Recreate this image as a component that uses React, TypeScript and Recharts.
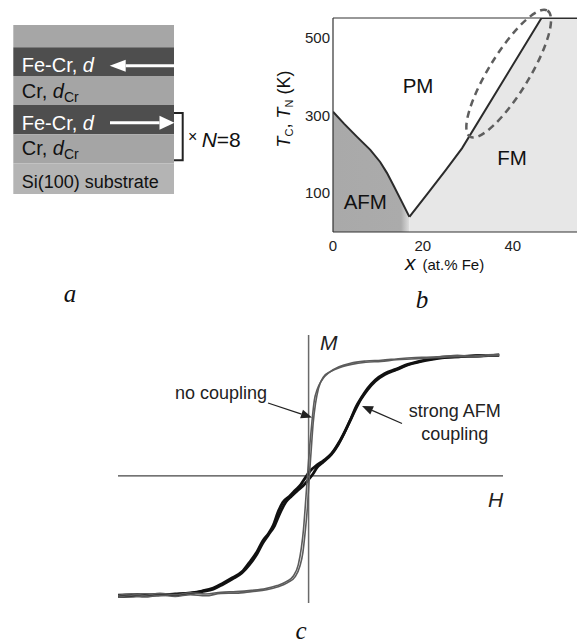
import React from "react";
import { Area, ComposedChart, Line, ReferenceDot, ReferenceLine, XAxis, YAxis } from "recharts";

const SANS = '"Liberation Sans", Arial, sans-serif';
const SERIF = '"Liberation Serif", "Times New Roman", serif';

// (a) layer stack, top to bottom
const layerTops = [25, 47.3, 76, 105, 134.3, 163.3, 194];
const layerFills = ["#a6a6a6", "#4e4e4e", "#a5a5a5", "#4e4e4e", "#a5a5a5", "#b4b4b4"];

// (b) phase diagram, x = at.% Fe, T in K
const feContent = [0, 2.5, 5.3, 8.3, 10.5, 12, 13.5, 15.3, 17, 21, 25, 28.7, 46.4, 54.3];
const neelTemp = [309, 278, 245, 211, 180, 152, 119, 78, 39, null, null, null, null, null];
const curieTemp = [null, null, null, null, null, null, null, null, 39, 98, 158, 215, 550, 550];
const phaseTicksX = [0, 20, 40];
const phaseTicksY = [100, 300, 500];

// (c) hysteresis loops, H and M in reduced units
const grayDownH = [-1.0, -0.93, -0.86, -0.78, -0.7, -0.62, -0.54, -0.46, -0.38, -0.3, -0.225, -0.165, -0.115, -0.08, -0.054, -0.038, -0.027, -0.015, -0.006, 0.006, 0.018, 0.03, 0.045, 0.07, 0.11, 0.16, 0.22, 0.3, 0.38, 0.46, 0.54, 0.62, 0.7, 0.78, 0.86, 0.93, 1.0];
const grayDownM = [-0.995, -0.985, -0.995, -0.98, -0.99, -0.975, -0.985, -0.97, -0.965, -0.955, -0.94, -0.915, -0.88, -0.835, -0.74, -0.6, -0.45, -0.2, 0.0, 0.25, 0.46, 0.63, 0.72, 0.8, 0.865, 0.91, 0.94, 0.958, 0.965, 0.975, 0.985, 0.99, 0.995, 1.005, 1.0, 1.01, 1.015];
const grayUpH = [-1.0, -0.93, -0.86, -0.78, -0.7, -0.62, -0.54, -0.46, -0.38, -0.3, -0.22, -0.16, -0.11, -0.07, -0.045, -0.03, -0.018, -0.006, 0.004, 0.013, 0.024, 0.036, 0.052, 0.078, 0.115, 0.165, 0.225, 0.3, 0.38, 0.46, 0.54, 0.62, 0.7, 0.78, 0.86, 0.93, 1.0];
const grayUpM = [-1.01, -1.0, -1.01, -0.995, -1.005, -0.99, -1.0, -0.98, -0.978, -0.965, -0.95, -0.925, -0.89, -0.84, -0.75, -0.64, -0.47, -0.26, 0.0, 0.2, 0.44, 0.6, 0.73, 0.825, 0.87, 0.905, 0.93, 0.948, 0.955, 0.968, 0.975, 0.982, 0.988, 0.995, 0.992, 1.0, 1.005];
const blackDownH = [-1.0, -0.9, -0.8, -0.7, -0.62, -0.56, -0.5, -0.45, -0.4, -0.35, -0.31, -0.27, -0.24, -0.21, -0.185, -0.16, -0.135, -0.1, -0.07, -0.04, -0.015, 0.01, 0.04, 0.08, 0.12, 0.16, 0.19, 0.22, 0.25, 0.28, 0.31, 0.35, 0.4, 0.46, 0.52, 0.58, 0.64, 0.7, 0.8, 0.9, 1.0];
const blackDownM = [-0.995, -0.99, -0.995, -0.985, -0.975, -0.96, -0.935, -0.895, -0.85, -0.8, -0.72, -0.63, -0.54, -0.48, -0.41, -0.3, -0.22, -0.17, -0.12, -0.07, -0.01, 0.045, 0.085, 0.13, 0.185, 0.28, 0.37, 0.47, 0.58, 0.66, 0.73, 0.8, 0.855, 0.89, 0.93, 0.955, 0.975, 0.99, 0.995, 1.0, 1.01];
const blackUpH = [-1.0, -0.9, -0.8, -0.7, -0.62, -0.56, -0.5, -0.45, -0.4, -0.35, -0.31, -0.27, -0.24, -0.21, -0.18, -0.15, -0.12, -0.09, -0.06, -0.03, -0.005, 0.02, 0.045, 0.08, 0.12, 0.155, 0.185, 0.215, 0.245, 0.275, 0.31, 0.35, 0.4, 0.46, 0.52, 0.58, 0.64, 0.7, 0.8, 0.9, 1.0];
const blackUpM = [-1.005, -1.0, -0.99, -0.99, -0.98, -0.965, -0.945, -0.905, -0.86, -0.81, -0.74, -0.65, -0.56, -0.49, -0.42, -0.31, -0.22, -0.17, -0.125, -0.085, -0.04, 0.01, 0.07, 0.12, 0.18, 0.26, 0.35, 0.45, 0.55, 0.64, 0.72, 0.79, 0.845, 0.885, 0.925, 0.95, 0.97, 0.985, 0.995, 1.005, 1.005];

const phaseRows = feContent.map((x, i) => ({ x, neel: neelTemp[i], curie: curieTemp[i] }));
const toRows = (h: number[], m: number[]) => h.map((v, i) => ({ h: v, m: m[i] }));

function arrowHead(x1: number, y1: number, x2: number, y2: number, len: number, half: number) {
  const d = Math.hypot(x2 - x1, y2 - y1);
  const ux = (x2 - x1) / d;
  const uy = (y2 - y1) / d;
  const bx = x2 - ux * len;
  const by = y2 - uy * len;
  return {
    bx,
    by,
    points: `${x2},${y2} ${bx - uy * half},${by + ux * half} ${bx + uy * half},${by - ux * half}`,
  };
}

function Arrow({ x1, y1, x2, y2, color, width, len, half }: any) {
  const h = arrowHead(x1, y1, x2, y2, len, half);
  return (
    <g>
      <line x1={x1} y1={y1} x2={h.bx} y2={h.by} stroke={color} strokeWidth={width} />
      <polygon points={h.points} fill={color} />
    </g>
  );
}

const tickStyle = { fontSize: 15, fill: "#222", fontFamily: SANS };

export default function App() {
  return (
    <div style={{ position: "absolute", left: 0, top: 0, width: 577, height: 644, background: "#fff", fontFamily: SANS }}>
      <div style={{ position: "absolute", left: 290, top: 0 }}>
        <ComposedChart width={287} height={260} data={phaseRows} margin={{ top: 18, right: 0, bottom: 0, left: 0 }}>
          <defs>
            <linearGradient id="afmFill" x1="0" y1="0" x2="1" y2="0">
              <stop offset="0" stopColor="#a9a9a9" />
              <stop offset="0.89" stopColor="#ababab" />
              <stop offset="1" stopColor="#dedede" />
            </linearGradient>
          </defs>
          <XAxis dataKey="x" type="number" domain={[0, 54.3]} ticks={phaseTicksX} height={28} tickLine={false} axisLine={{ stroke: "#333", strokeWidth: 1.2 }} tick={tickStyle} allowDataOverflow />
          <YAxis type="number" domain={[0, 550]} ticks={phaseTicksY} width={43} tickLine={false} tickSize={1} tickMargin={2} axisLine={{ stroke: "#333", strokeWidth: 1.2 }} tick={tickStyle} allowDataOverflow />
          <Area dataKey="curie" type="linear" fill="#e7e7e7" fillOpacity={1} stroke="#2b2b2b" strokeWidth={2} baseValue={0} isAnimationActive={false} />
          <Area dataKey="neel" type="linear" fill="url(#afmFill)" fillOpacity={1} stroke="#2b2b2b" strokeWidth={2} baseValue={0} isAnimationActive={false} />
          <ReferenceLine y={550} stroke="#333" strokeWidth={1.2} />
          <ReferenceDot
            x={39.1}
            y={407}
            r={0}
            shape={(p: any) => (
              <ellipse cx={p.cx} cy={p.cy} rx={74} ry={20} transform={`rotate(-58.4 ${p.cx} ${p.cy})`} fill="none" stroke="#5e5e5e" strokeWidth={2.5} strokeDasharray="7 5" />
            )}
          />
        </ComposedChart>
      </div>

      <div style={{ position: "absolute", left: 0, top: 320 }}>
        <ComposedChart width={577} height={300} margin={{ top: 15, right: 74, bottom: 17, left: 118 }}>
          <XAxis dataKey="h" type="number" domain={[-1, 1.02]} hide allowDataOverflow />
          <YAxis type="number" domain={[-1.06, 1.175]} hide allowDataOverflow />
          <ReferenceLine x={0} stroke="#6a6a6a" strokeWidth={1.5} />
          <ReferenceLine y={0} stroke="#444" strokeWidth={1.2} />
          <Line data={toRows(blackDownH, blackDownM)} dataKey="m" type="monotone" stroke="#111" strokeWidth={2.8} dot={false} isAnimationActive={false} />
          <Line data={toRows(blackUpH, blackUpM)} dataKey="m" type="monotone" stroke="#111" strokeWidth={2.8} dot={false} isAnimationActive={false} />
          <Line data={toRows(grayDownH, grayDownM)} dataKey="m" type="monotone" stroke="#5c5c5c" strokeWidth={1.6} dot={false} isAnimationActive={false} />
          <Line data={toRows(grayUpH, grayUpM)} dataKey="m" type="monotone" stroke="#5c5c5c" strokeWidth={1.6} dot={false} isAnimationActive={false} />
        </ComposedChart>
      </div>

      <svg width={577} height={644} style={{ position: "absolute", left: 0, top: 0, pointerEvents: "none" }}>
        {layerFills.map((fill, i) => (
          <rect key={i} x={13.3} y={layerTops[i]} width={160.7} height={layerTops[i + 1] - layerTops[i]} fill={fill} />
        ))}
        <g fontFamily={SANS} fontSize={20}>
          <text x={21.7} y={72} fill="#fff">Fe-Cr, <tspan fontStyle="italic">d</tspan></text>
          <text x={21.7} y={98} fill="#111">Cr, <tspan fontStyle="italic">d</tspan><tspan fontSize={14} dy={4}>Cr</tspan></text>
          <text x={21.7} y={130} fill="#fff">Fe-Cr, <tspan fontStyle="italic">d</tspan></text>
          <text x={21.7} y={155} fill="#111">Cr, <tspan fontStyle="italic">d</tspan><tspan fontSize={14} dy={4}>Cr</tspan></text>
          <text x={21.7} y={188.3} fill="#111" fontSize={18}>Si(100) substrate</text>
        </g>
        <Arrow x1={174} y1={65.7} x2={109.7} y2={65.7} color="#fff" width={3} len={16} half={6} />
        <Arrow x1={110} y1={122.7} x2={174.5} y2={122.7} color="#fff" width={3} len={15} half={7} />
        <path d="M174 113 H182.7 V160.3 H174" fill="none" stroke="#222" strokeWidth={2} />
        <text x={188} y={141.7} fontFamily={SANS} fontSize={16} fill="#111">×</text>
        <text x={201.7} y={146.7} fontFamily={SANS} fontSize={21} fill="#111"><tspan fontStyle="italic">N</tspan>=8</text>

        <g fontFamily={SANS} fill="#111" fontSize={20.5} textAnchor="middle">
          <text x={418} y={92.7}>PM</text>
          <text x={512} y={165}>FM</text>
          <text x={365.3} y={209.3}>AFM</text>
        </g>
        <text x={290} y={109} transform="rotate(-90 290 109)" textAnchor="middle" fontFamily={SANS} fontSize={18} fill="#111">
          <tspan fontStyle="italic">T</tspan><tspan fontSize={11} dy={3}>C</tspan><tspan dy={-3}>,  </tspan><tspan fontStyle="italic">T</tspan><tspan fontSize={11} dy={3}>N</tspan><tspan dy={-3}> (K)</tspan>
        </text>
        <text x={405} y={270} fontFamily={SANS} fill="#111">
          <tspan fontStyle="italic" fontSize={21}>x</tspan><tspan fontSize={15} dx={7}>(at.% Fe)</tspan>
        </text>

        <g fontFamily={SANS} fontSize={18} fill="#222">
          <text x={175} y={399.3}>no coupling</text>
          <text x={454.7} y={417} textAnchor="middle">strong AFM</text>
          <text x={454.7} y={439.5} textAnchor="middle">coupling</text>
          <text x={320} y={350} fontStyle="italic" fontSize={21}>M</text>
          <text x={488} y={506.7} fontStyle="italic" fontSize={21}>H</text>
        </g>
        <Arrow x1={268} y1={403} x2={312} y2={417.5} color="#222" width={1.3} len={11} half={4.5} />
        <Arrow x1={402} y1={423.5} x2={362} y2={406} color="#222" width={1.3} len={11} half={4.5} />

        <g fontFamily={SERIF} fontStyle="italic" fontSize={25} fill="#111" textAnchor="middle">
          <text x={70} y={302}>a</text>
          <text x={422} y={308}>b</text>
          <text x={301} y={639}>c</text>
        </g>
      </svg>
    </div>
  );
}
